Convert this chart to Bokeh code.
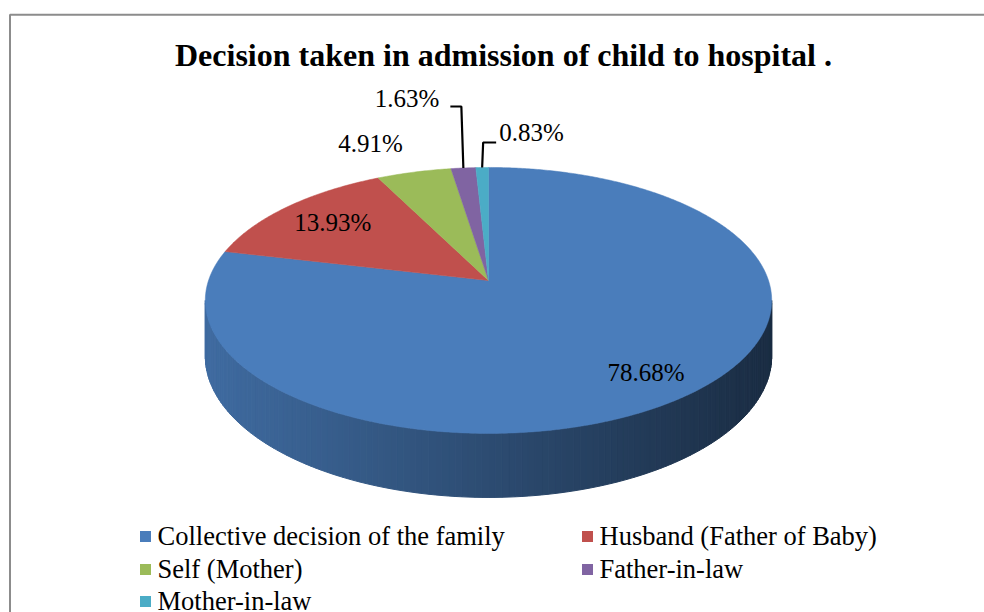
import numpy as np
from bokeh.plotting import figure
from bokeh.models import Range1d
from bokeh.embed import file_html
from bokeh.resources import INLINE
from bokeh.core.properties import value

# ---------------- data ----------------
title_text = "Decision taken in admission of child to hospital ."
categories = ["Collective decision of the family", "Husband (Father of Baby)",
              "Self (Mother)", "Father-in-law", "Mother-in-law"]
percentages = [78.68, 13.93, 4.91, 1.63, 0.83]
label_texts = ["78.68%", "13.93%", "4.91%", "1.63%", "0.83%"]
colors = ["#4a7dbb", "#c0504d", "#9bbb59", "#8064a2", "#4bacc6"]

# ---------------- layout ----------------
W, H = 984, 612
CX, CY = 488, 280          # pie apex (pixels, y down)
RX, RY, K = 280, 130, 0.15 # ellipse radii and perspective factor
DEPTH = 54.4
FONT = value("Liberation Serif")


def project(theta_deg, r=1.0):
    t = np.radians(theta_deg)
    u = r * np.sin(t)
    v = r * np.cos(t)
    d = 1 + K * v
    return CX + RX * u / d, CY - RY * v / d


def depth_at(theta_deg):
    v = np.cos(np.radians(theta_deg))
    return DEPTH / (1 + K * v)


def hex_to_rgb(h):
    h = h.lstrip("#")
    return tuple(int(h[i:i + 2], 16) for i in (0, 2, 4))


def shade(h, f):
    r, g, b = hex_to_rgb(h)
    return "#%02x%02x%02x" % (int(r * f), int(g * f), int(b * f))


total = sum(percentages)
starts, ends = [], []
acc = 0.0
for pct in percentages:
    starts.append(acc / total * 360.0)
    acc += pct
    ends.append(acc / total * 360.0)


def slice_index(theta):
    for i, (a, b) in enumerate(zip(starts, ends)):
        if a <= theta <= b:
            return i
    return 0


p = figure(width=W, height=H, x_range=Range1d(0, W), y_range=Range1d(H, 0),
           output_backend="svg", toolbar_location=None, min_border=0,
           outline_line_color=None, background_fill_color="white")
p.axis.visible = False
p.grid.visible = False

# chart border (left & top visible)
p.line(x=[9.5, 9.5, W], y=[H, 14.3, 14.3], line_color="#8c8c8c", line_width=2)

# ---------------- pie side (front wall) ----------------
t_right = np.degrees(np.arctan2(np.sqrt(1 - K * K), -K))
t_left = 360 - t_right
N = 140
ts = np.linspace(t_right, t_left, N + 1)
xr_min, _ = project(t_left)
xr_max, _ = project(t_right)
side_xs, side_ys, side_cols = [], [], []
for i in range(N):
    a, b = ts[i], ts[i + 1]
    xa, ya = project(a)
    xb, yb = project(b)
    da, db = depth_at(a), depth_at(b)
    side_xs.append([xa, xb, xb, xa])
    side_ys.append([ya, yb, yb + db, ya + da])
    xm = (xa + xb) / 2
    frac = (xm - xr_min) / (xr_max - xr_min)
    f = 0.86 - 0.50 * frac
    side_cols.append(shade(colors[slice_index((a + b) / 2)], f))
p.patches(xs=side_xs, ys=side_ys, fill_color=side_cols, line_color=side_cols,
          line_width=1)

# ---------------- pie top ----------------
top_xs, top_ys = [], []
for a, b in zip(starts, ends):
    n = max(int((b - a) * 2), 6)
    th = np.linspace(a, b, n)
    px, py = project(th)
    top_xs.append([CX] + list(px))
    top_ys.append([CY] + list(py))
p.patches(xs=top_xs, ys=top_ys, fill_color=colors, line_color=colors,
          line_width=0.5)

# ---------------- data labels ----------------
mids = [(a + b) / 2 for a, b in zip(starts, ends)]
label_style = [
    dict(mode="inside", r=0.82),
    dict(mode="inside", r=0.76),
    dict(mode="outside", dx=-43.6, dy=-28.7),
    dict(mode="leader", rise=61.5, run=-11, gap=-11, bdy=-8),
    dict(mode="leader", rise=25, run=13, gap=3, bdy=-10),
]
lx, ly, la, lt = [], [], [], []
lead_xs, lead_ys = [], []
for txt, mid, st in zip(label_texts, mids, label_style):
    if st["mode"] == "inside":
        x, y = project(mid, st["r"])
        lx.append(float(x)); ly.append(float(y) - 0.5); la.append("center")
    elif st["mode"] == "outside":
        x, y = project(mid)
        lx.append(float(x) + st["dx"]); ly.append(float(y) + st["dy"]); la.append("center")
    else:
        x, y = project(mid)
        x, y = float(x), float(y)
        ex, ey = x - 2 if st["run"] < 0 else x + 1, y - st["rise"]
        hx = ex + st["run"]
        lead_xs.append([x, ex, hx]); lead_ys.append([y, ey, ey])
        lx.append(hx + st["gap"]); ly.append(ey + st["bdy"])
        la.append("right" if st["run"] < 0 else "left")
    lt.append(txt)

p.multi_line(xs=lead_xs, ys=lead_ys, line_color="black", line_width=2.2)
for x, y, a, t in zip(lx, ly, la, lt):
    p.text(x=[x], y=[y], text=[t], text_align=a, text_baseline="alphabetic",
           text_font=FONT, text_font_size="25px", text_color="black")

# ---------------- title ----------------
p.text(x=[503], y=[54], text=[title_text], text_align="center",
       text_baseline="alphabetic", text_font=FONT, text_font_size="32px",
       text_font_style="bold", text_color="black")

# ---------------- legend ----------------
col_x = [145, 587]
row_c = [536, 569, 601]
leg_sx, leg_sy, leg_tx, leg_ty = [], [], [], []
for i, cat in enumerate(categories):
    c, r = i % 2, i // 2
    leg_sx.append(col_x[c]); leg_sy.append(row_c[r])
    leg_tx.append(col_x[c] + 12); leg_ty.append(row_c[r] - 1)
p.rect(x=leg_sx, y=leg_sy, width=11, height=11, fill_color=colors, line_color=None)
p.text(x=leg_tx, y=leg_ty, text=categories, text_align="left",
       text_baseline="alphabetic", text_font=FONT, text_font_size="26.5px",
       text_color="black")

open("out.html", "w").write(file_html(p, INLINE))
